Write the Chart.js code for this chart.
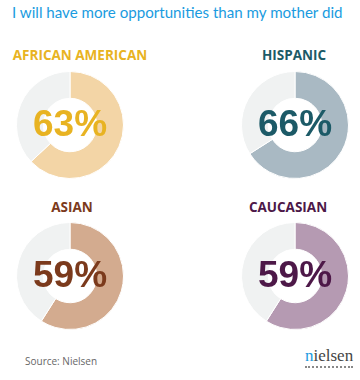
<!DOCTYPE html>
<html>
<head>
<meta charset="utf-8">
<script src="https://cdn.jsdelivr.net/npm/chart.js@4.4.0/dist/chart.umd.min.js"></script>
<style>
  body { margin: 0; background: #fff; }
  #wrap { position: relative; width: 360px; height: 380px; overflow: hidden; font-family: "Open Sans", sans-serif; }
  .title { position: absolute; left: 12px; top: 3px; font-family: Lato, sans-serif; font-size: 15.5px; color: #1a9be0; white-space: nowrap; }
  .label { position: absolute; font-weight: 700; font-size: 13.5px; white-space: nowrap; transform: translate(-50%, -50%); }
  canvas { position: absolute; }
  .source { position: absolute; left: 25px; top: 354px; font-size: 10px; color: #666; }
  .logo { position: absolute; left: 305px; top: 348px; font-family: "Liberation Serif", serif; font-size: 17px; color: #444;
          border-bottom: 2px dotted #888; line-height: 16px; padding-bottom: 2px; }
  .logo span { color: #1a9be0; }
</style>
</head>
<body>
<div id="wrap">
  <div class="title" id="title">I will have more opportunities than my mother did</div>
  <div class="source">Source: Nielsen</div>
  <div class="logo"><span>n</span>ielsen</div>
</div>
<script>
// Share answering "yes", by group
const groups = ['AFRICAN AMERICAN', 'HISPANIC', 'ASIAN', 'CAUCASIAN'];
const agreeShare = [63, 66, 59, 59];

// look of each panel
const ringColors = ['#f3d5a6', '#a9b9c3', '#d3ab8f', '#b59ab2'];
const textColors = ['#e8b322', '#1c5a67', '#7b3a1c', '#4d1848'];
const restColor = '#f0f2f2';
const centers = [[70, 124.5], [294.5, 124.5], [70, 275.5], [294.5, 275.5]];
const labelPos = [[80, 55], [294, 55], [72, 207], [288, 207]];
const size = 108;

// keep the title inside 331px
const title = document.getElementById('title');
if (title.offsetWidth > 331) {
  title.style.fontSize = (15.5 * 331 / title.offsetWidth) + 'px';
}

// writes the first value of the ring in the middle
const centerText = {
  id: 'centerText',
  afterDraw(chart) {
    const meta = chart.getDatasetMeta(0).data[0];
    const ctx = chart.ctx;
    ctx.save();
    ctx.font = 'bold 37px "Liberation Sans", Arial, sans-serif';
    ctx.fillStyle = chart.options.plugins.centerText.color;
    ctx.textAlign = 'center';
    ctx.textBaseline = 'middle';
    ctx.fillText(chart.data.datasets[0].data[0] + '%', meta.x, meta.y + 1);
    ctx.restore();
  }
};

const wrap = document.getElementById('wrap');
groups.forEach(function(name, i) {
  const lab = document.createElement('div');
  lab.className = 'label';
  lab.textContent = name;
  lab.style.left = labelPos[i][0] + 'px';
  lab.style.top = labelPos[i][1] + 'px';
  lab.style.color = textColors[i];
  wrap.appendChild(lab);

  const cv = document.createElement('canvas');
  cv.width = size;
  cv.height = size;
  cv.style.left = (centers[i][0] - size / 2) + 'px';
  cv.style.top = (centers[i][1] - size / 2) + 'px';
  wrap.appendChild(cv);

  new Chart(cv.getContext('2d'), {
    type: 'doughnut',
    data: {
      labels: ['Yes', 'No'],
      datasets: [{
        data: [agreeShare[i], 100 - agreeShare[i]],
        backgroundColor: [ringColors[i], restColor],
        borderColor: '#fff',
        borderWidth: 1,
        hoverOffset: 0
      }]
    },
    options: {
      responsive: false,
      animation: false,
      cutout: '50%',
      plugins: {
        legend: { display: false },
        tooltip: { enabled: false },
        centerText: { color: textColors[i] }
      }
    },
    plugins: [centerText]
  });
});
</script>
</body>
</html>
